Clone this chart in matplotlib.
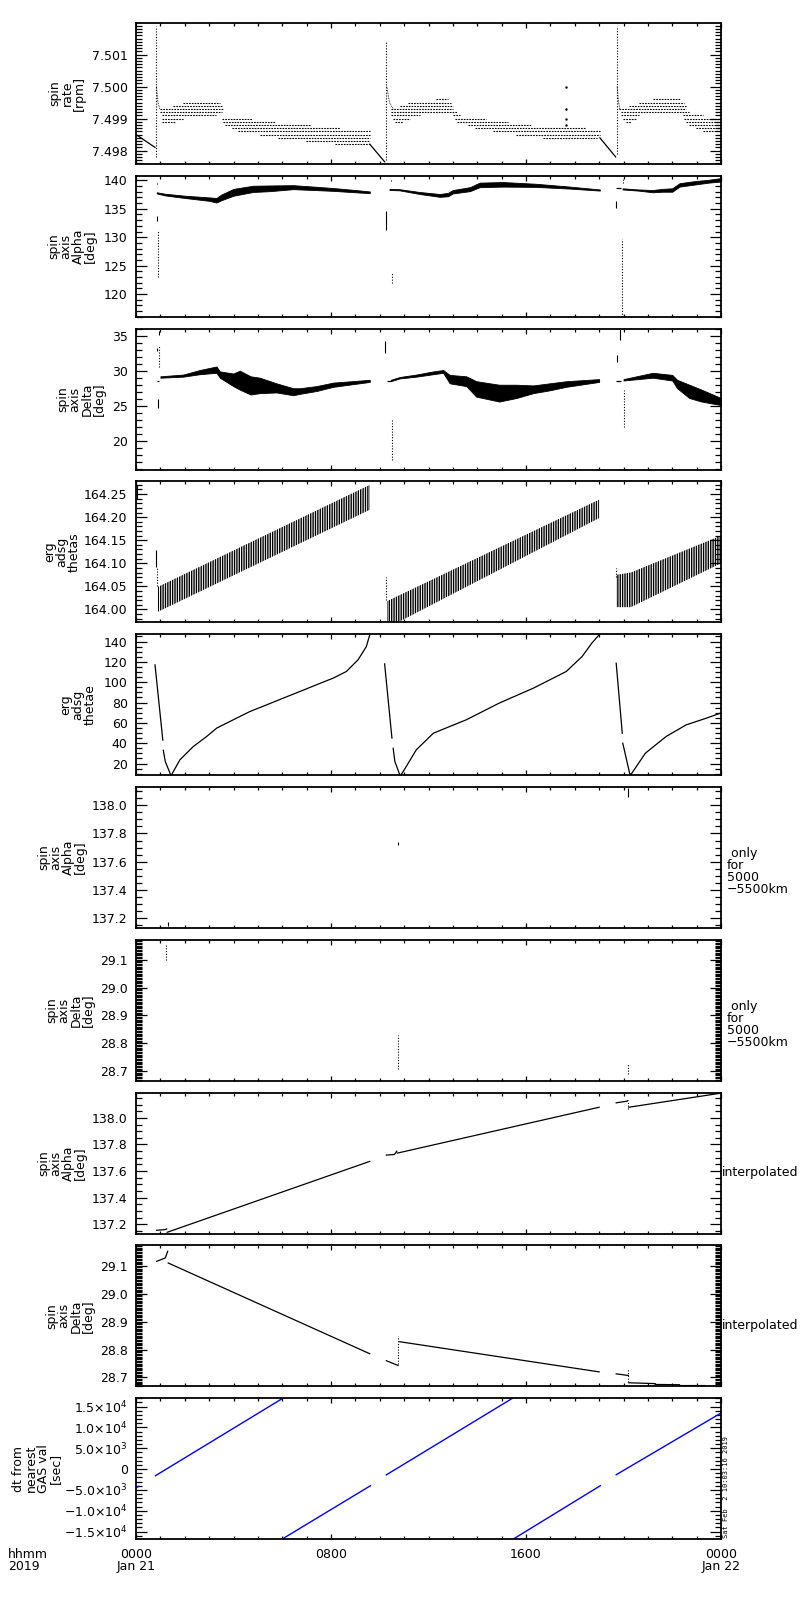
"""ERG spin / attitude summary plot for 2019-01-21 (10 stacked panels).

Time axis is hours since 2019-01-21 0000 UT.
"""
import matplotlib
matplotlib.use("Agg")
import matplotlib.pyplot as plt
import numpy as np
from matplotlib.ticker import MultipleLocator, FixedLocator, FixedFormatter, FormatStrFormatter

NAN = np.nan

# ---------------- panel 1: spin rate [rpm] ----------------
p1_line_h = [0.0, 0.78, NAN, 9.59, 10.2, NAN, 19.03, 19.68]
p1_line_v = [7.4985, 7.4981, NAN, 7.4982, 7.49765, NAN, 7.4984, 7.4978]
p1_decay_h = [0.84, 0.9, 0.98, NAN, 10.29, 10.4, 10.55, NAN, 19.74, 19.8, 19.85]
p1_decay_v = [7.5000, 7.4995, 7.4993, NAN, 7.5000, 7.4995, 7.4993, NAN, 7.5000, 7.4995, 7.4993]
p1_spike_h = [0.82, 10.27, 19.72]
p1_spike_lo = [7.4978, 7.4977, 7.4979]
p1_spike_hi = [7.5019, 7.5014, 7.5019]
p1_iso_h = [17.65, 17.65, 17.65, 17.65]
p1_iso_v = [7.5000, 7.4993, 7.4990, 7.4988]
# quantised levels: (level, start hour, end hour)
p1_band_lvl = [7.4995, 7.4994, 7.4993, 7.4992, 7.4991, 7.4990, 7.4990, 7.4989, 7.4989,
               7.4988, 7.4987, 7.4986, 7.4985, 7.4984, 7.4983, 7.4982,
               7.4996, 7.4995, 7.4994, 7.4993, 7.4992, 7.4991, 7.4991, 7.4990, 7.4990,
               7.4989, 7.4989, 7.4988, 7.4987, 7.4986, 7.4985, 7.4984,
               7.4996, 7.4995, 7.4994, 7.4993, 7.4992, 7.4991, 7.4991, 7.4990, 7.4990,
               7.4989, 7.4989, 7.4988, 7.4987, 7.4986]
p1_band_h0 = [1.94, 1.53, 0.98, 0.98, 1.05, 1.05, 3.51, 1.05, 3.58,
              3.65, 3.92, 4.19, 5.08, 5.83, 6.99, 8.16,
              12.3, 11.16, 10.82, 10.48, 10.48, 10.48, 13.0, 10.55, 13.07,
              10.62, 13.15, 13.62, 13.9, 14.64, 15.6, 16.7,
              21.2, 20.65, 20.24, 19.83, 19.9, 19.9, 22.43, 19.97, 22.5,
              20.1, 22.56, 22.7, 22.98, 23.25]
p1_band_h1 = [3.44, 3.51, 3.58, 3.51, 3.30, 1.94, 4.74, 1.60, 5.70,
              7.13, 8.36, 9.59, 9.59, 9.59, 9.59, 9.59,
              12.8, 12.94, 13.0, 13.0, 13.15, 11.64, 13.3, 11.23, 14.37,
              10.96, 15.26, 16.2, 18.4, 19.03, 19.03, 18.9,
              22.3, 22.5, 22.56, 22.56, 22.7, 20.65, 23.25, 20.52, 24.0,
              20.3, 24.0, 24.0, 24.0, 24.0]

# ---------------- panel 2: spin axis Alpha [deg] ----------------
p2_o1_h = [0.85, 1.19, 2.0, 3.0, 3.3, 3.5, 4.0, 4.8, 5.5, 6.45, 7.3, 8.09, 9.0, 9.59]
p2_o1_lo = [137.7, 137.35, 136.9, 136.4, 136.1, 136.5, 137.3, 137.95, 138.1, 138.45, 138.3, 138.15, 137.9, 137.75]
p2_o1_hi = [137.9, 137.65, 137.3, 137.0, 136.9, 137.5, 138.5, 139.05, 139.1, 139.15, 138.9, 138.65, 138.3, 138.05]
p2_o2_h = [10.4, 10.8, 11.64, 12.46, 12.8, 13.0, 13.7, 14.1, 15.06, 16.4, 17.8, 19.03]
p2_o2_lo = [138.3, 138.25, 137.6, 137.1, 137.2, 137.7, 138.1, 138.8, 138.9, 138.85, 138.55, 138.2]
p2_o2_hi = [138.5, 138.45, 137.95, 137.6, 137.8, 138.3, 138.8, 139.6, 139.7, 139.4, 138.9, 138.4]
p2_o3_h = [19.96, 20.6, 21.2, 21.6, 22.0, 22.3, 22.98, 23.5, 24.0]
p2_o3_lo = [138.4, 138.2, 137.9, 138.0, 138.0, 138.9, 139.3, 139.6, 139.8]
p2_o3_hi = [138.6, 138.4, 138.3, 138.5, 138.6, 139.5, 139.9, 140.1, 140.4]
p2_tick_h = [0.85, 0.85, 10.27, 19.7]
p2_tick_lo = [132.8, 139.3, 131.3, 135.2]
p2_tick_hi = [133.7, 139.5, 134.6, 136.3]
p2_dots_h = [0.9, 10.5, 10.45, 19.93, 19.98]
p2_dots_lo = [123.0, 121.9, 139.9, 116.0, 139.6]
p2_dots_hi = [131.3, 123.7, 140.3, 129.6, 140.3]
p2_flat_h0 = [19.7]
p2_flat_h1 = [19.9]
p2_flat_v = [138.7]

# ---------------- panel 3: spin axis Delta [deg] ----------------
p3_o1_h = [1.0, 1.94, 2.62, 3.3, 3.44, 3.99, 4.26, 4.7, 5.08, 5.76, 6.45, 6.72, 7.4, 8.09, 9.59]
p3_o1_lo = [29.0, 29.15, 29.5, 29.7, 29.0, 27.8, 27.3, 26.6, 26.8, 26.9, 26.5, 26.7, 27.1, 27.7, 28.4]
p3_o1_hi = [29.2, 29.45, 30.1, 30.6, 29.9, 29.6, 30.0, 29.2, 29.0, 28.2, 27.5, 27.5, 27.8, 28.3, 28.7]
p3_o2_h = [10.45, 10.82, 11.5, 12.2, 12.6, 12.87, 13.55, 13.96, 14.9, 15.6, 16.3, 16.97, 17.65, 19.0]
p3_o2_lo = [28.5, 28.9, 29.15, 29.5, 29.7, 28.2, 27.8, 26.3, 25.6, 26.1, 26.8, 27.2, 27.7, 28.4]
p3_o2_hi = [28.7, 29.1, 29.45, 29.9, 30.1, 29.4, 29.2, 28.5, 28.0, 28.0, 27.9, 28.2, 28.5, 28.8]
p3_o3_h = [20.0, 21.2, 22.0, 22.2, 22.7, 23.2, 24.0]
p3_o3_lo = [28.6, 29.0, 28.6, 27.5, 26.1, 25.6, 25.1]
p3_o3_hi = [28.8, 29.7, 29.4, 28.7, 28.0, 27.3, 26.1]
p3_tick_h = [0.85, 0.9, 0.95, 10.2, 19.75, 19.85]
p3_tick_lo = [32.8, 24.7, 35.1, 32.5, 31.3, 34.4]
p3_tick_hi = [33.2, 25.9, 35.6, 34.2, 32.3, 35.9]
p3_dots_h = [0.95, 10.5, 20.0]
p3_dots_lo = [30.5, 17.3, 22.0]
p3_dots_hi = [33.5, 23.0, 27.3]
p3_flat_h0 = [0.85, 10.3, 19.7]
p3_flat_h1 = [0.95, 10.45, 19.9]
p3_flat_v = [28.6, 28.6, 28.5]

# ---------------- panel 4: erg adsg thetas ----------------
p4_o1_h = [0.9, 9.59]
p4_o1_lo = [163.995, 164.216]
p4_o1_hi = [164.049, 164.270]
p4_o2_h = [10.3, 19.0]
p4_o2_lo = [163.960, 164.198]
p4_o2_hi = [164.018, 164.238]
p4_o3_h = [19.7, 20.3, 24.0]
p4_o3_lo = [164.005, 164.005, 164.100]
p4_o3_hi = [164.075, 164.080, 164.160]
p4_tick_h = [0.05, 0.8]
p4_tick_lo = [164.24, 164.093]
p4_tick_hi = [164.27, 164.129]
p4_dots_h = [0.88, 10.27, 19.68]
p4_dots_lo = [164.05, 164.02, 164.07]
p4_dots_hi = [164.093, 164.07, 164.09]

# ---------------- panel 5: erg adsg thetae ----------------
p5_h = [0.78, 1.1, NAN, 1.12, 1.2, 1.42, 1.46, 1.80, 2.35, 2.90, 3.31, 3.99, 4.67, 5.36,
        6.04, 6.72, 7.4, 8.09, 8.63, 9.11, 9.45, 9.59, NAN,
        10.2, 10.5, NAN, 10.55, 10.62, 10.82, 10.87, 10.96, 11.5, 12.2, 12.87, 13.55, 14.9,
        16.3, 17.65, 18.3, 18.7, 19.0, NAN,
        19.7, 19.95, NAN, 19.97, 20.25, 20.3, 20.9, 21.75, 22.57, 23.4, 24.0]
p5_v = [117, 43, NAN, 33, 22, 9, 9, 23.6, 36.7, 46.6, 54.8, 63, 71.1, 77.7,
        84.3, 90.8, 97.4, 104, 110.5, 122, 135, 146.6, NAN,
        118, 45, NAN, 35, 22, 9, 9, 12, 33.5, 49.8, 56.4, 63, 79.4,
        94.1, 110.5, 125.2, 138.4, 146.6, NAN,
        118.7, 49.8, NAN, 40, 10.5, 9, 30.2, 46.6, 58, 64.6, 69.8]

# ---------------- panels 6/7: only for 5000-5500 km ----------------
p6_h = [1.32, 10.75, 20.2]
p6_lo = [137.14, 137.72, 138.06]
p6_hi = [137.17, 137.74, 138.12]
p7_h = [1.25, 10.75, 20.2]
p7_lo = [29.10, 28.71, 28.69]
p7_hi = [29.155, 28.83, 28.73]

# ---------------- panels 8/9: interpolated ----------------
p8_h = [0.85, 1.2, 1.26, NAN, 1.28, 9.59, NAN, 10.27, 10.6, 10.7, NAN, 10.72, 19.0, NAN,
        19.7, 20.15, 20.18, NAN, 20.22, 24.0]
p8_v = [137.155, 137.16, 137.165, NAN, 137.14, 137.673, NAN, 137.72, 137.725, 137.75, NAN,
        137.735, 138.08, NAN, 138.113, 138.126, 138.13, NAN, 138.08, 138.186]
p8_dots_h = [20.2]
p8_dots_lo = [138.07]
p8_dots_hi = [138.13]
p9_h = [0.85, 1.2, 1.3, NAN, 1.32, 9.59, NAN, 10.27, 10.75, NAN, 10.82, 19.0, NAN,
        19.7, 20.2, NAN, 20.22, 21.3, 21.3, 22.3, 22.3, 23.33]
p9_v = [29.116, 29.128, 29.152, NAN, 29.11, 28.785, NAN, 28.76, 28.743, NAN, 28.828, 28.72, NAN,
        28.713, 28.707, NAN, 28.681, 28.678, 28.675, 28.674, 28.671, 28.671]
p9_dots_h = [10.75, 20.2]
p9_dots_lo = [28.75, 28.683]
p9_dots_hi = [28.85, 28.73]

# ---------------- panel 10: dt from nearest GAS val [sec] ----------------
p10_h = [0.0, 0.12, NAN, 0.8, 5.97, NAN, 6.0, 9.62, NAN, 10.27, 15.45, NAN,
         15.47, 19.05, NAN, 19.7, 24.0]
p10_v = [-4500, -4150, NAN, -1600, 16800, NAN, -16800, -4000, NAN, -1400, 17000, NAN,
         -16840, -4000, NAN, -1370, 13440]
p10_ticks = [-15000, -10000, -5000, 0, 5000, 10000, 15000]
p10_labels = [r"$-$1.5$\times$10$^{4}$", r"$-$1.0$\times$10$^{4}$", r"$-$5.0$\times$10$^{3}$", "0",
              r"5.0$\times$10$^{3}$", r"1.0$\times$10$^{4}$", r"1.5$\times$10$^{4}$"]

time_ticks = [0, 8, 16, 24]
time_labels = ["0000\nJan 21", "0800", "1600", "0000\nJan 22"]

ylabels = ["spin\nrate\n[rpm]", "spin\naxis\nAlpha\n[deg]", "spin\naxis\nDelta\n[deg]",
           "erg\nadsg\nthetas", "erg\nadsg\nthetae", "spin\naxis\nAlpha\n[deg]",
           "spin\naxis\nDelta\n[deg]", "spin\naxis\nAlpha\n[deg]", "spin\naxis\nDelta\n[deg]",
           "dt from\nnearest\nGAS val\n[sec]"]
ylims = [(7.49758, 7.50199), (116.0, 140.8), (15.9, 36.0), (163.972, 164.2775), (8.5, 147.2),
         (137.129, 138.13), (28.666, 29.171), (137.13, 138.19), (28.668, 29.173), (-16840, 17000)]
ymajor = [0.001, 5, 5, 0.05, 20, 0.2, 0.1, 0.2, 0.1, 5000]
yminor = [0.0001, 1, 1, 0.01, 5, 0.05, 0.005, 0.05, 0.005, 1000]
yfmt = ["%.3f", "%d", "%d", "%.2f", "%d", "%.1f", "%.1f", "%.1f", "%.1f", None]
ylabel_x = [67, 72, 81, 62, 78, 62, 70, 62, 70, 37]  # pixel centre of the label

FIG_W, FIG_H = 800, 1600
AX_L, AX_R = 136, 721
TOP0, PITCH, PH = 23, 152.8, 141


def vsegs(ax, h, lo, hi, dotted=False):
    ax.vlines(h, lo, hi, colors="k", linewidth=0.8,
              linestyles=(0, (1, 1.5)) if dotted else "solid")


def band(ax, h, lo, hi):
    ax.fill_between(h, lo, hi, color="k", linewidth=0.6)


def main():
    plt.rcParams["font.family"] = "DejaVu Sans"
    plt.rcParams["font.size"] = 9
    plt.rcParams["mathtext.fontset"] = "dejavusans"
    plt.rcParams["hatch.linewidth"] = 1.0

    fig = plt.figure(figsize=(FIG_W / 100, FIG_H / 100), dpi=100)
    axes = []
    for i in range(10):
        top = TOP0 + PITCH * i
        ax = fig.add_axes([AX_L / FIG_W, 1 - (top + PH) / FIG_H,
                           (AX_R - AX_L) / FIG_W, PH / FIG_H])
        ax.set_xlim(0, 24)
        ax.set_ylim(*ylims[i])
        ax.xaxis.set_major_locator(MultipleLocator(8))
        ax.xaxis.set_minor_locator(MultipleLocator(1))
        ax.yaxis.set_major_locator(MultipleLocator(ymajor[i]))
        ax.yaxis.set_minor_locator(MultipleLocator(yminor[i]))
        ax.tick_params(which="both", direction="in", top=True, right=True, width=0.9)
        ax.tick_params(axis="y", which="major", length=8, pad=6, labelsize=9)
        ax.tick_params(axis="y", which="minor", length=4.3)
        ax.tick_params(axis="x", which="major", length=3.6)
        ax.tick_params(axis="x", which="minor", length=2.2)
        for s in ax.spines.values():
            s.set_linewidth(1.3)
        if yfmt[i]:
            ax.yaxis.set_major_formatter(FormatStrFormatter(yfmt[i]))
        if i < 9:
            ax.set_xticklabels([])
        ax.text((ylabel_x[i] - AX_L) / (AX_R - AX_L), 0.5, ylabels[i], transform=ax.transAxes,
                rotation=90, ha="center", va="center", multialignment="center",
                linespacing=0.92, fontsize=9)
        axes.append(ax)

    # panel 1
    ax = axes[0]
    ax.plot(p1_line_h, p1_line_v, color="k", linewidth=0.9)
    ax.plot(p1_decay_h, p1_decay_v, color="k", linewidth=0.6, linestyle=(0, (1, 1)))
    vsegs(ax, p1_spike_h, p1_spike_lo, p1_spike_hi, dotted=True)
    ax.hlines(p1_band_lvl, p1_band_h0, p1_band_h1, colors="k", linewidth=0.8,
              linestyles=(0, (1.5, 1)))
    ax.plot(p1_iso_h, p1_iso_v, "k.", markersize=1.5)

    # panel 2
    ax = axes[1]
    band(ax, p2_o1_h, p2_o1_lo, p2_o1_hi)
    band(ax, p2_o2_h, p2_o2_lo, p2_o2_hi)
    band(ax, p2_o3_h, p2_o3_lo, p2_o3_hi)
    vsegs(ax, p2_tick_h, p2_tick_lo, p2_tick_hi)
    vsegs(ax, p2_dots_h, p2_dots_lo, p2_dots_hi, dotted=True)
    ax.hlines(p2_flat_v, p2_flat_h0, p2_flat_h1, colors="k", linewidth=0.9)

    # panel 3
    ax = axes[2]
    band(ax, p3_o1_h, p3_o1_lo, p3_o1_hi)
    band(ax, p3_o2_h, p3_o2_lo, p3_o2_hi)
    band(ax, p3_o3_h, p3_o3_lo, p3_o3_hi)
    vsegs(ax, p3_tick_h, p3_tick_lo, p3_tick_hi)
    vsegs(ax, p3_dots_h, p3_dots_lo, p3_dots_hi, dotted=True)
    ax.hlines(p3_flat_v, p3_flat_h0, p3_flat_h1, colors="k", linewidth=0.9)

    # panel 4: dense sawtooth bands, drawn as hatched strips
    ax = axes[3]
    for h, lo, hi in [(p4_o1_h, p4_o1_lo, p4_o1_hi), (p4_o2_h, p4_o2_lo, p4_o2_hi),
                      (p4_o3_h, p4_o3_lo, p4_o3_hi)]:
        ax.fill_between(h, lo, hi, facecolor="white", edgecolor="k", hatch="|||||||",
                        linewidth=0)
    vsegs(ax, p4_tick_h, p4_tick_lo, p4_tick_hi)
    vsegs(ax, p4_dots_h, p4_dots_lo, p4_dots_hi, dotted=True)

    # panel 5
    axes[4].plot(p5_h, p5_v, color="k", linewidth=0.9)

    # panels 6, 7
    vsegs(axes[5], p6_h, p6_lo, p6_hi)
    vsegs(axes[6], p7_h, p7_lo, p7_hi, dotted=True)
    for ax in axes[5:7]:
        ax.text((727 - AX_L) / (AX_R - AX_L), 0.40, " only\nfor\n5000\n\u22125500km",
                transform=ax.transAxes, ha="left", va="center", linespacing=0.9, fontsize=9)

    # panels 8, 9
    axes[7].plot(p8_h, p8_v, color="k", linewidth=0.9)
    vsegs(axes[7], p8_dots_h, p8_dots_lo, p8_dots_hi, dotted=True)
    axes[8].plot(p9_h, p9_v, color="k", linewidth=0.9)
    vsegs(axes[8], p9_dots_h, p9_dots_lo, p9_dots_hi, dotted=True)
    for ax in axes[7:9]:
        ax.text(1.002, 0.43, "interpolated", transform=ax.transAxes,
                ha="left", va="center", fontsize=9)

    # panel 10
    ax = axes[9]
    ax.plot(p10_h, p10_v, color="#0000ff", linewidth=1.0)
    ax.yaxis.set_major_locator(FixedLocator(p10_ticks))
    ax.yaxis.set_major_formatter(FixedFormatter(p10_labels))
    ax.set_xticks(time_ticks)
    ax.set_xticklabels(time_labels)
    ax.tick_params(axis="x", which="major", pad=6, labelsize=9)
    for lab in ax.get_xticklabels():
        lab.set_linespacing(0.95)

    fig.text(8 / FIG_W, 1 - 1548 / FIG_H, "hhmm\n2019", ha="left", va="top",
             linespacing=0.95, fontsize=9)
    fig.text(726 / FIG_W, 1 - 1538 / FIG_H, "Sat Feb  2 10:03:16 2019", rotation=90,
             ha="center", va="bottom", fontsize=5, family="DejaVu Sans Mono")

    fig.savefig("out.png", dpi=100)
    plt.close(fig)


if __name__ == "__main__":
    main()
